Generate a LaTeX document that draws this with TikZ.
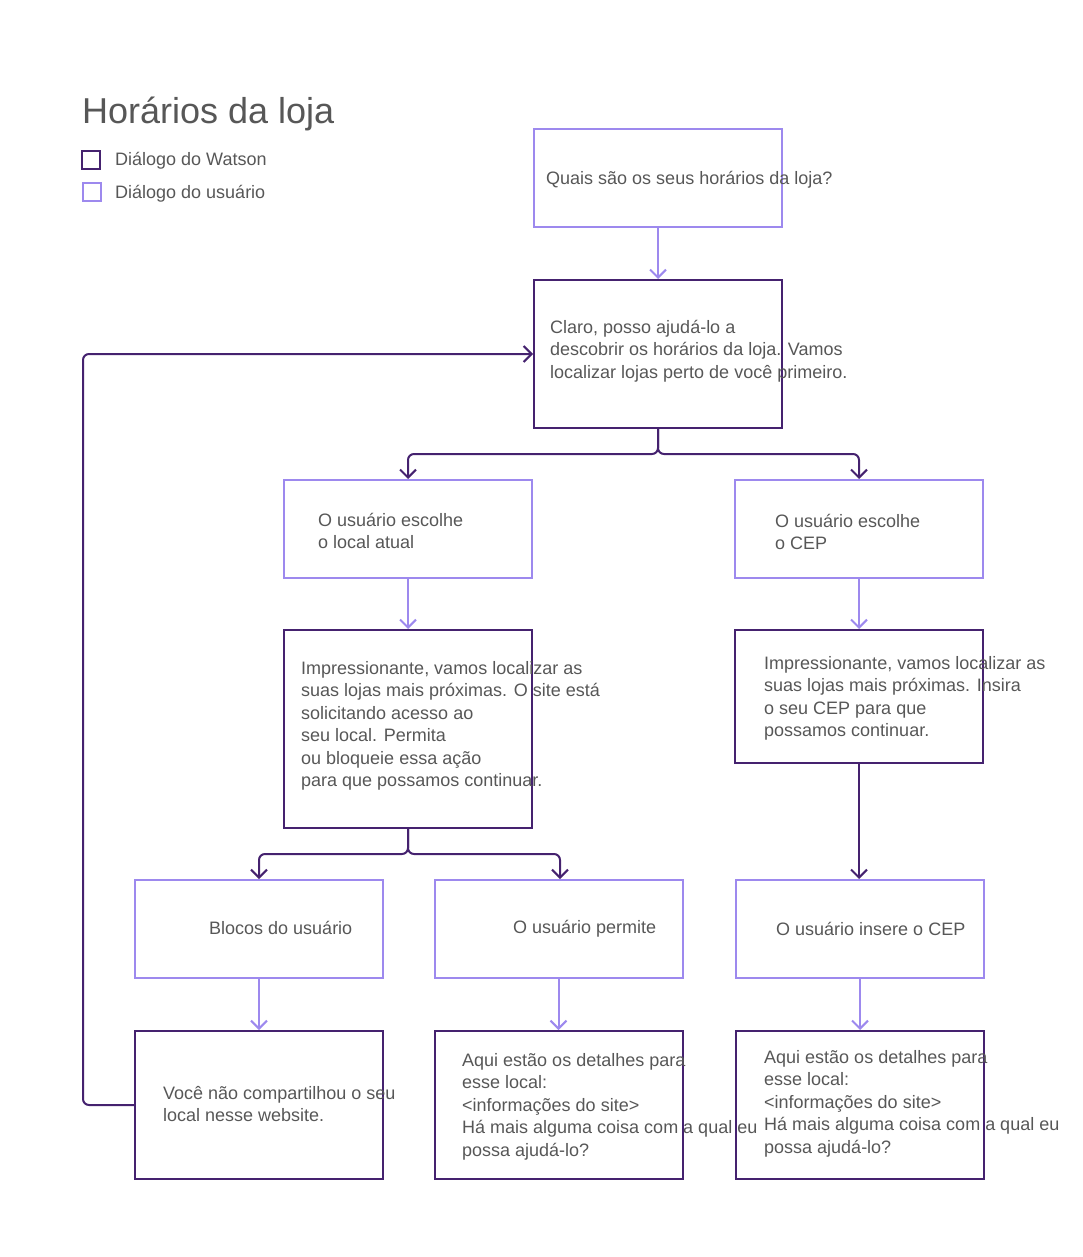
\documentclass[tikz,border=0pt]{standalone}
\usepackage{fontspec}
\setmainfont{Liberation Sans}
\usetikzlibrary{arrows.meta}
\definecolor{wdark}{HTML}{45226F}
\definecolor{ulight}{HTML}{9D89EE}
\definecolor{txtgrey}{HTML}{575757}
\newcommand\myfirstline{\rule{0pt}{18pt}}
\begin{document}
\begin{tikzpicture}[x=1pt,y=-1pt,
  wbox/.style={rectangle, draw=wdark, line width=2pt, minimum width=248pt, inner sep=0pt},
  ubox/.style={rectangle, draw=ulight, line width=2pt, minimum width=248pt, inner sep=0pt},
  txt/.style={anchor=north west, inner sep=0pt, align=left, text=txtgrey, font=\fontsize{18}{22.5}\selectfont},
  warr/.style={draw=wdark, line width=2pt, -{Straight Barb[length=8pt,width=16pt]}, rounded corners=6pt},
  uarr/.style={draw=ulight, line width=2pt, -{Straight Barb[length=8pt,width=16pt]}}
]
\useasboundingbox (0,0) rectangle (1083,1257);

% title and legend
\node[anchor=base west, inner sep=0pt, text=txtgrey, font=\fontsize{36}{43}\selectfont] (title) at (82,124) {Horários da loja};
\node[wbox, minimum width=18pt, minimum height=18pt] (legw) at (90.5,160) {};
\node[ubox, minimum width=18pt, minimum height=18pt] (legu) at (91.5,192) {};
\node[anchor=base west, inner sep=0pt, text=txtgrey, font=\fontsize{18}{22.5}\selectfont] (legwt) at (115,166) {Diálogo do Watson};
\node[anchor=base west, inner sep=0pt, text=txtgrey, font=\fontsize{18}{22.5}\selectfont] (legut) at (115,199) {Diálogo do usuário};

% boxes
\node[ubox, minimum height=98pt]  (q1) at (658,178) {};
\node[wbox, minimum height=148pt] (w1) at (658,354) {};
\node[ubox, minimum height=98pt]  (ul) at (408,529) {};
\node[ubox, minimum height=98pt]  (ur) at (859,529) {};
\node[wbox, minimum height=198pt] (wl) at (408,729) {};
\node[wbox, minimum height=133pt] (wr) at (859,696.5) {};
\node[ubox, minimum height=98pt]  (ub) at (259,929) {};
\node[ubox, minimum height=98pt]  (up) at (558.5,929) {};
\node[ubox, minimum height=98pt]  (uc) at (860,929) {};
\node[wbox, minimum height=148pt] (bl) at (259,1105) {};
\node[wbox, minimum height=148pt] (bm) at (559,1105) {};
\node[wbox, minimum height=148pt] (br) at (860,1105) {};

% texts
\node[txt] (q1t) at (546,166) {\myfirstline Quais são os seus horários da loja?};
\node[txt] (w1t) at (550,315) {\myfirstline Claro, posso ajudá-lo a\\descobrir os horários da loja. Vamos\\localizar lojas perto de você primeiro.};
\node[txt] (ult) at (318,508) {\myfirstline O usuário escolhe\\o local atual};
\node[txt] (urt) at (775,509) {\myfirstline O usuário escolhe\\o CEP};
\node[txt] (wlt) at (301,656) {\myfirstline Impressionante, vamos localizar as\\suas lojas mais próximas. O site está\\solicitando acesso ao\\seu local. Permita\\ou bloqueie essa ação\\para que possamos continuar.};
\node[txt] (wrt) at (764,651) {\myfirstline Impressionante, vamos localizar as\\suas lojas mais próximas. Insira\\o seu CEP para que\\possamos continuar.};
\node[txt] (ubt) at (209,916) {\myfirstline Blocos do usuário};
\node[txt] (upt) at (513,915) {\myfirstline O usuário permite};
\node[txt] (uct) at (776,917) {\myfirstline O usuário insere o CEP};
\node[txt] (blt) at (163,1081) {\myfirstline Você não compartilhou o seu\\local nesse website.};
\node[txt] (bmt) at (462,1048) {\myfirstline Aqui estão os detalhes para\\esse local:\\<informações do site>\\Há mais alguma coisa com a qual eu\\possa ajudá-lo?};
\node[txt] (brt) at (764,1045) {\myfirstline Aqui estão os detalhes para\\esse local:\\<informações do site>\\Há mais alguma coisa com a qual eu\\possa ajudá-lo?};

% connectors
\draw[uarr] (q1) -- (w1);
\draw[warr] (w1.south) -- ++(0,25) -| (ul.north);
\draw[warr] (w1.south) -- ++(0,25) -| (ur.north);
\draw[uarr] (ul) -- (wl);
\draw[uarr] (ur) -- (wr);
\draw[warr] (wl.south) -- ++(0,25) -| (ub.north);
\draw[warr] (wl.south) -- ++(0,25) -| ([xshift=1.5pt]up.north);
\draw[warr] (wr.south) -- (wr.south |- uc.north);
\draw[uarr] (ub) -- (bl);
\draw[uarr] (up.south) -- (up.south |- bm.north);
\draw[uarr] (uc.south) -- (uc.south |- br.north);
\coordinate (loopc) at (83,354);
\draw[warr] (bl.west) -| (loopc) -- (w1.west);
\end{tikzpicture}
\end{document}
